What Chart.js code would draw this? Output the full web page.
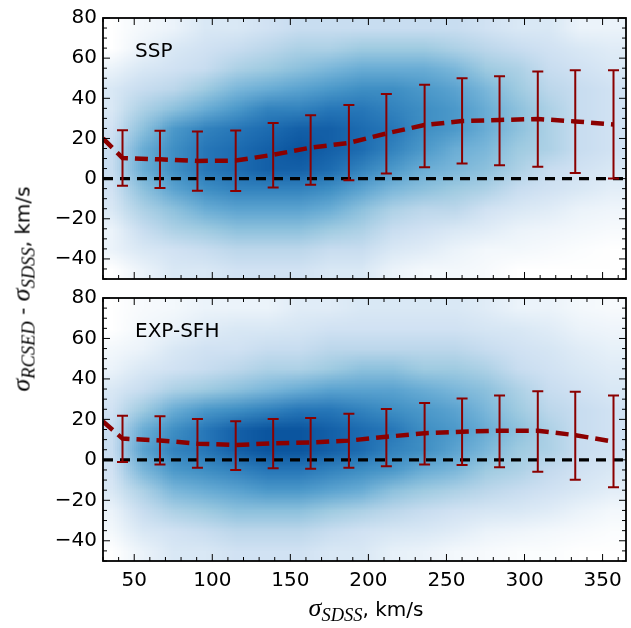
<!DOCTYPE html>
<html>
<head>
<meta charset="utf-8">
<script src="https://cdn.jsdelivr.net/npm/chart.js@4.4.1/dist/chart.umd.min.js"></script>
<style>
body{margin:0;background:#fff;width:631px;height:628px;position:relative;overflow:hidden;font-family:"DejaVu Sans",sans-serif}
.box{position:absolute;left:0;width:631px}
#boxTop{top:0;height:297px}
#boxBot{top:280px;height:348px}
.lab{position:absolute;font-size:20px;color:#000;white-space:nowrap;transform:translate(-50%,-50%)}
.m{font-family:"Liberation Serif",serif;font-style:italic;font-size:26px}
.m sub{font-size:18.5px;vertical-align:-5px}
#ylab{left:23px;top:289px;transform:translate(-50%,-50%) rotate(-90deg)}
#xlab{left:366px;top:609px}
</style>
</head>
<body>
<div class="box" id="boxTop"><canvas id="chartTop"></canvas></div>
<div class="box" id="boxBot"><canvas id="chartBot"></canvas></div>
<div class="lab" id="ylab"><span class="m">σ<sub>RCSED</sub></span> - <span class="m">σ<sub>SDSS</sub></span>, km/s</div>
<div class="lab" id="xlab"><span class="m">σ<sub>SDSS</sub></span>, km/s</div>
<script>
// bin centres of sigma_SDSS
let binX = [42.5, 66.5, 90.5, 115, 139, 163, 187.5, 211.5, 236, 260, 284, 308.5, 332.5, 357];

// SSP panel
let medSSP = [10.3, 9.6, 8.8, 9.0, 11.9, 15.4, 17.8, 22.5, 26.7, 28.7, 29.2, 29.7, 28.5, 27];
let hiSSP = [24.1, 23.8, 23.5, 24.0, 27.7, 31.5, 36.7, 42.2, 46.8, 50.0, 51.0, 53.3, 54.0, 54.0];
let loSSP = [-3.6, -4.7, -6.0, -6.2, -4.4, -3.1, -0.8, 2.6, 5.7, 7.5, 6.7, 5.9, 2.8, 0.0];

// EXP-SFH panel
let medEXP = [10.5, 9.6, 8.0, 7.3, 8.2, 8.6, 9.5, 11.4, 13.2, 13.9, 14.4, 14.4, 12.2, 9];
let hiEXP = [21.8, 21.5, 20.2, 19.1, 20.2, 20.7, 22.8, 25.1, 28.1, 30.3, 31.8, 33.9, 33.7, 31.8];
let loEXP = [-1.1, -2.3, -3.9, -5.0, -4.2, -4.4, -3.9, -3.2, -2.3, -2.6, -3.7, -5.9, -9.8, -13.5];

// where the median curve enters at the left edge
let edgeX = 30;
let edgeSSP = 20;
let edgeEXP = 19;

let xTicks = [50, 100, 150, 200, 250, 300, 350];
let yTicks = [-40, -20, 0, 20, 40, 60, 80];

// density of galaxies (relative, 0..9), columns = densX, rows = densY
let densX = [35, 55, 75, 95, 115, 135, 155, 175, 195, 215, 235, 255, 275, 295, 315, 335, 355];
let densY = [75, 65, 55, 45, 35, 25, 15, 5, -5, -15, -25, -35, -45];
let densSSP = [
  [0, 0.3, 0.5, 1, 1, 1.5, 2, 2, 2, 2, 2, 2, 1.5, 1, 1, 0.5, 0.5],
  [0, 0.5, 1, 1.5, 2, 2.5, 3, 3, 3.5, 3.5, 3.5, 3, 2.5, 2, 1.5, 1, 0.8],
  [0.5, 1, 1.5, 2, 3, 3.5, 4, 4.5, 5, 5, 5, 4.5, 3.5, 3, 2, 1.5, 1],
  [1, 2, 2.5, 3.5, 4.5, 5, 5.5, 6, 6.5, 6.5, 6, 5.5, 4.5, 3.5, 2.5, 2, 1.5],
  [1, 3, 4, 5, 6, 7, 7, 7.5, 7.5, 7, 6.5, 6, 5, 4, 3, 2, 1.5],
  [1.5, 4, 6, 7, 7.5, 8, 8.5, 8.5, 8, 7.5, 6.5, 6, 5, 4, 3, 2, 1.5],
  [2, 5, 6.5, 7.5, 8, 8.5, 9, 8.5, 8, 7, 6, 5, 4.5, 3.5, 3, 2, 1.5],
  [2, 5, 6.5, 7.5, 8, 8.5, 8.5, 8, 7, 6, 5, 4.5, 4, 3, 2, 1.5, 1],
  [1.5, 4, 5.5, 6.5, 7, 7, 7, 6.5, 5.5, 4.5, 4, 3.5, 3, 2, 1.5, 1, 0.7],
  [1, 3, 4, 5, 5.5, 5.5, 5.5, 5, 4, 3, 2.5, 2.5, 1.5, 1, 0.8, 0.5, 0.4],
  [0.5, 2, 3, 3.5, 4, 4, 4, 3.5, 3, 2, 1.5, 1, 0.8, 0.5, 0.4, 0.3, 0.2],
  [0.5, 1, 1.5, 2, 2.5, 2.5, 2.5, 2, 2, 1, 0.8, 0.5, 0.3, 0.3, 0.2, 0.1, 0],
  [0, 0.5, 1, 1, 1.5, 1.5, 1.5, 1, 1, 0.5, 0.3, 0.3, 0.2, 0, 0, 0, 0]
];
let densEXP = [
  [0, 0.2, 0.3, 0.5, 0.5, 0.5, 0.8, 0.8, 1, 1, 1, 1, 0.8, 0.5, 0.5, 0.3, 0.2],
  [0, 0.3, 0.5, 0.8, 1, 1, 1.2, 1.5, 1.5, 1.5, 1.5, 1.5, 1.2, 1, 0.8, 0.5, 0.4],
  [0.3, 0.5, 1, 1.5, 1.5, 2, 2, 2.5, 2.5, 2.5, 2.5, 2.5, 2, 1.5, 1.2, 0.8, 0.6],
  [0.5, 1, 1.5, 2, 2.5, 3, 3, 3.5, 4, 4, 3.5, 3.5, 3, 2, 1.5, 1, 0.8],
  [1, 2, 3, 3.5, 4, 4.5, 5, 5.5, 5.5, 5.5, 5, 4.5, 4, 3, 2, 1.5, 1],
  [1.5, 3.5, 5, 6, 6.5, 7, 7.5, 7.5, 7, 6.5, 6, 5.5, 4.5, 3.5, 2.5, 2, 1.5],
  [2, 5, 6.5, 7.5, 8.5, 9, 9, 8.5, 8, 7.5, 6.5, 6, 5, 4, 3, 2, 1.5],
  [2, 5.5, 7, 7.5, 8.5, 9, 9, 8.5, 8, 7, 6.5, 5.5, 4.5, 3.5, 3, 2, 1.5],
  [1.5, 4.5, 6, 6.5, 7, 7.5, 7.5, 7, 6.5, 6, 5, 4.5, 3.5, 3, 2.2, 1.5, 1],
  [1, 3, 4.5, 5, 5.5, 6, 6, 5.5, 5, 4, 3.5, 3, 2.5, 2, 1.5, 1, 0.7],
  [0.5, 2, 3, 3.5, 4, 4, 4, 3.5, 3, 2.5, 2, 1.5, 1.2, 1, 0.8, 0.5, 0.3],
  [0.3, 1, 1.5, 2, 2.5, 2.5, 2.5, 2, 1.5, 1.2, 1, 0.8, 0.5, 0.4, 0.3, 0.2, 0.1],
  [0, 0.5, 1, 1, 1.5, 1.5, 1.5, 1, 1, 0.6, 0.5, 0.3, 0.2, 0.1, 0.1, 0, 0]
];

const darkRed = '#8b0000';
const bluesStops = [[255,255,255],[222,235,247],[198,219,239],[158,202,225],[107,174,214],[66,146,198],[33,113,181],[8,81,156],[8,48,107]];

function blues(level) {
  if (level <= 0) return 'rgb(255,255,255)';
  const p = 0.8 * level / 9 + 0.06 * Math.min(level, 1);
  const f = p * 8, k = Math.min(7, Math.floor(f)), t = f - k;
  const c = bluesStops[k].map((v, m) => Math.round(v + (bluesStops[k + 1][m] - v) * t));
  return 'rgb(' + c.join(',') + ')';
}

function heatPlugin(dens) {
  return {
    id: 'heat',
    beforeDatasetsDraw(chart) {
      const nx = densX.length, ny = densY.length;
      const off = document.createElement('canvas');
      off.width = nx; off.height = ny;
      const o = off.getContext('2d');
      for (let j = 0; j < ny; j++) {
        for (let i = 0; i < nx; i++) {
          o.fillStyle = blues(dens[j][i]);
          o.fillRect(i, j, 1, 1);
        }
      }
      const {ctx, chartArea: a, scales: {x, y}} = chart;
      const x0 = x.getPixelForValue(densX[0] - 10), x1 = x.getPixelForValue(densX[nx - 1] + 10);
      const y0 = y.getPixelForValue(densY[0] + 5), y1 = y.getPixelForValue(densY[ny - 1] - 5);
      ctx.save();
      ctx.beginPath();
      ctx.rect(a.left, a.top, a.right - a.left, a.bottom - a.top);
      ctx.clip();
      ctx.imageSmoothingEnabled = true;
      ctx.drawImage(off, x0, y0, x1 - x0, y1 - y0);
      ctx.restore();
    }
  };
}

function errPlugin(lo, hi) {
  return {
    id: 'errbars',
    afterDatasetsDraw(chart) {
      const {ctx, scales: {x, y}} = chart;
      ctx.save();
      ctx.strokeStyle = darkRed;
      ctx.lineWidth = 2;
      binX.forEach((v, i) => {
        const px = x.getPixelForValue(v);
        const pl = y.getPixelForValue(lo[i]), ph = y.getPixelForValue(hi[i]);
        ctx.beginPath();
        ctx.moveTo(px, pl); ctx.lineTo(px, ph);
        ctx.moveTo(px - 5.5, pl); ctx.lineTo(px + 5.5, pl);
        ctx.moveTo(px - 5.5, ph); ctx.lineTo(px + 5.5, ph);
        ctx.stroke();
      });
      ctx.restore();
    }
  };
}

function framePlugin(label) {
  return {
    id: 'frame',
    afterDraw(chart) {
      const {ctx, chartArea: a, scales: {x, y}} = chart;
      ctx.save();
      ctx.strokeStyle = '#000';
      ctx.lineWidth = 1;
      ctx.beginPath();
      for (let v = 30; v <= 365; v += 10) {
        const px = x.getPixelForValue(v), len = v % 50 === 0 ? 7 : 4;
        ctx.moveTo(px, a.top); ctx.lineTo(px, a.top + len);
        ctx.moveTo(px, a.bottom); ctx.lineTo(px, a.bottom - len);
      }
      for (let v = -50; v <= 80; v += 5) {
        const py = y.getPixelForValue(v), len = v % 20 === 0 ? 7 : 4;
        ctx.moveTo(a.left, py); ctx.lineTo(a.left + len, py);
        ctx.moveTo(a.right, py); ctx.lineTo(a.right - len, py);
      }
      ctx.stroke();
      ctx.lineWidth = 1.8;
      ctx.strokeRect(a.left, a.top, a.right - a.left, a.bottom - a.top);
      ctx.fillStyle = '#000';
      ctx.font = '20px "DejaVu Sans"';
      ctx.textBaseline = 'middle';
      ctx.fillText(label, a.left + 32, a.top + 34);
      ctx.restore();
    }
  };
}

function makePanel(id, med, lo, hi, edge, dens, label, showX, pad) {
  const linePts = [{x: edgeX, y: edge}].concat(binX.map((v, i) => ({x: v, y: med[i]})));
  return new Chart(id, {
    type: 'line',
    data: {
      datasets: [{
        data: [{x: 30, y: 0}, {x: 365, y: 0}],
        borderColor: '#000',
        borderWidth: 3.2,
        borderDash: [10, 7],
        pointRadius: 0
      }, {
        data: linePts,
        borderColor: darkRed,
        borderWidth: 4.5,
        borderDash: [13, 7],
        pointRadius: 0,
        tension: 0
      }]
    },
    options: {
      responsive: true,
      maintainAspectRatio: false,
      animation: false,
      layout: {padding: pad},
      plugins: {legend: {display: false}, tooltip: {enabled: false}},
      scales: {
        x: {
          type: 'linear', min: 30, max: 365, display: showX,
          grid: {display: false, drawTicks: false}, border: {display: false},
          afterBuildTicks: s => { s.ticks = xTicks.map(v => ({value: v})); },
          afterFit: s => { s.height = showX ? 67 : 0; },
          ticks: {color: '#000', padding: 8, font: {size: 20, family: 'DejaVu Sans'}}
        },
        y: {
          min: -50, max: 80,
          grid: {display: false, drawTicks: false}, border: {display: false},
          afterBuildTicks: s => { s.ticks = yTicks.map(v => ({value: v})); },
          afterFit: s => { s.width = 103; },
          ticks: {
            color: '#000', padding: 6, font: {size: 20, family: 'DejaVu Sans'},
            callback: v => v < 0 ? '\u2212' + Math.abs(v) : String(v)
          }
        }
      }
    },
    plugins: [heatPlugin(dens), errPlugin(lo, hi), framePlugin(label)]
  });
}

makePanel('chartTop', medSSP, loSSP, hiSSP, edgeSSP, densSSP, 'SSP', false, {top: 15, right: 5, bottom: 12, left: 0});
makePanel('chartBot', medEXP, loEXP, hiEXP, edgeEXP, densEXP, 'EXP-SFH', true, {top: 15, right: 5, bottom: 0, left: 0});
</script>
</body>
</html>
